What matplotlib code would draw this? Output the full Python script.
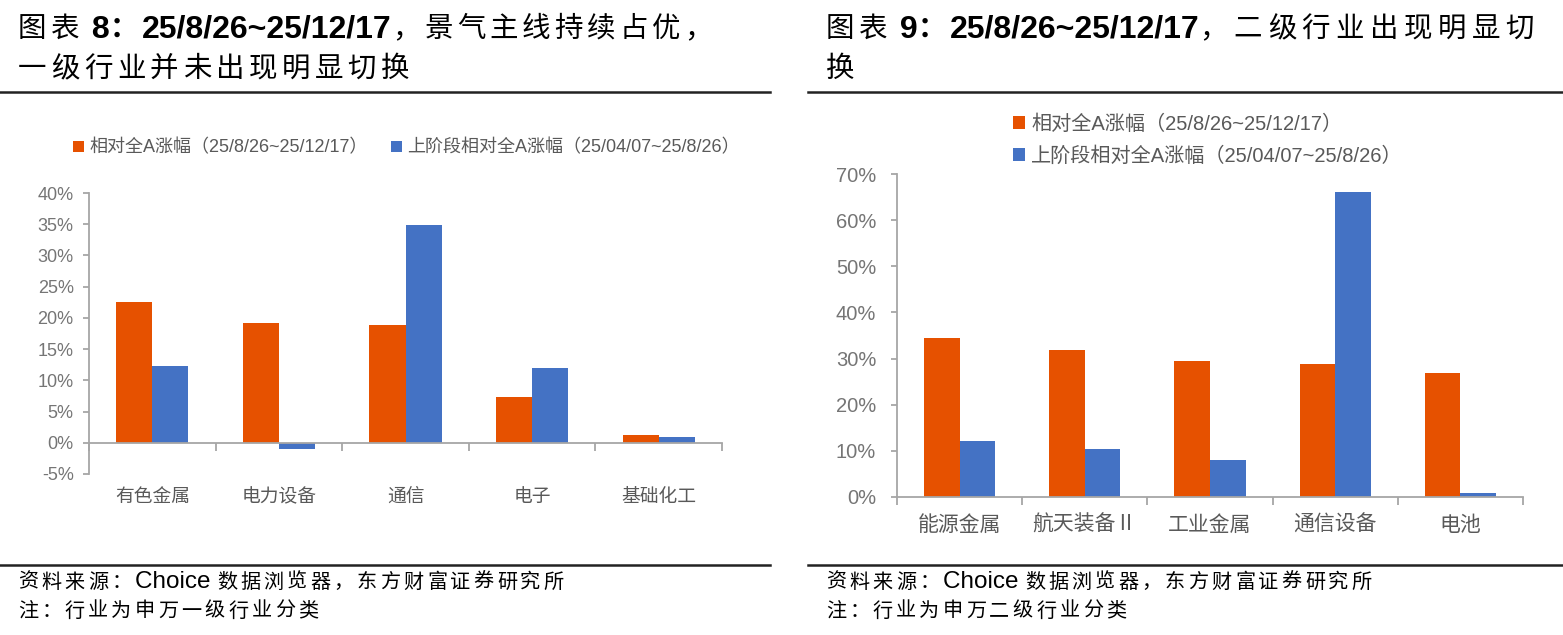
import numpy as np
import matplotlib
matplotlib.use('Agg')
import matplotlib.pyplot as plt
import matplotlib.transforms as mtransforms
from matplotlib.lines import Line2D

plt.rcParams['font.family'] = ['Liberation Sans', 'Noto Sans CJK SC', 'DejaVu Sans']

# data
left_cats = ['有色金属', '电力设备', '通信', '电子', '基础化工']
left_now = [22.5, 19.2, 18.8, 7.3, 1.2]
left_prev = [12.3, -1.0, 34.9, 12.0, 0.9]

right_cats = ['能源金属', '航天装备Ⅱ', '工业金属', '通信设备', '电池']
right_now = [34.5, 31.8, 29.5, 28.9, 26.9]
right_prev = [12.1, 10.4, 8.1, 66.1, 0.95]

label_now = '相对全A涨幅（25/8/26~25/12/17）'
label_prev = '上阶段相对全A涨幅（25/04/07~25/8/26）'

ORANGE = '#E65100'
BLUE = '#4472C4'
GRAY = '#595959'
TICKGRAY = '#757575'
AXIS = '#A6A6A6'
W, H = 1563, 635

fig = plt.figure(figsize=(W / 100, H / 100), dpi=100)
fig.patch.set_facecolor('white')
renderer = fig.canvas.get_renderer()


def fx(px):
    return px / W


def fy(py):
    return 1 - py / H


def draw_runs(xpx, ypx, runs):
    # runs: (text, size, bold, track); track=None -> latin run, measured as a whole
    for txt, size, bold, track in runs:
        weight = 'bold' if bold else 'normal'
        if track is None:
            t = fig.text(fx(xpx), fy(ypx), txt, fontsize=size, fontweight=weight,
                         va='center', ha='left')
            xpx += t.get_window_extent(renderer=renderer).width
        else:
            em = size * 100 / 72
            for ch in txt:
                fig.text(fx(xpx), fy(ypx), ch, fontsize=size, fontweight=weight,
                         va='center', ha='left')
                xpx += em + track


TS, TB, TT = 20.5, 23, 4
draw_runs(18, 30, [('图表', TS, False, TT), (' 8', TB, True, None), ('：', TS, True, TT),
                   ('25/8/26~25/12/17', TB, True, None), ('，景气主线持续占优，', TS, False, TT)])
draw_runs(18, 70, [('一级行业并未出现明显切换', TS, False, TT + 0.5)])
draw_runs(826, 30, [('图表', TS, False, TT), (' 9', TB, True, None), ('：', TS, True, TT),
                    ('25/8/26~25/12/17', TB, True, None), ('，二级行业出现明显切', TS, False, TT + 1.5)])
draw_runs(826, 70, [('换', TS, False, TT)])

# horizontal rules
for x0, x1 in [(0, 770), (808, 1563)]:
    fig.add_artist(Line2D([fx(x0), fx(x1)], [fy(92), fy(92)], color='#222222', lw=1.8))
    fig.add_artist(Line2D([fx(x0), fx(x1)], [fy(565), fy(565)], color='#222222', lw=1.8))

# footers
FS, FL, FT = 14.5, 17.5, 3.2
for x0, lvl in [(18, '一'), (826, '二')]:
    draw_runs(x0, 582, [('资料来源：', FS, False, FT), ('Choice ', FL, False, None),
                        ('数据浏览器，东方财富证券研究所', FS, False, FT)])
    draw_runs(x0, 611, [('注：行业为申万' + lvl + '级行业分类', FS, False, FT)])

bw = 0.285


def style_axes(ax, cats, tick_size, pad):
    for s in ['top', 'right']:
        ax.spines[s].set_visible(False)
    ax.spines['left'].set_color(AXIS)
    ax.spines['bottom'].set_color(AXIS)
    ax.spines['left'].set_linewidth(1.3)
    ax.spines['bottom'].set_linewidth(1.3)
    ax.tick_params(axis='y', colors=AXIS, labelcolor=TICKGRAY, labelsize=tick_size,
                   length=4, width=1.3, pad=pad)
    ax.set_xlim(-0.5, len(cats) - 0.5)
    ax.set_xticks(np.arange(len(cats) + 1) - 0.5)
    ax.set_xticklabels([])
    ax.tick_params(axis='x', colors=AXIS, length=6, width=1.3, direction='out')
    ax.yaxis.set_major_formatter(plt.FuncFormatter(lambda v, p: f'{v:.0f}%'))


# left chart
ax1 = fig.add_axes([fx(89), fy(474), fx(722) - fx(89), fy(193) - fy(474)])
x = np.arange(len(left_cats))
ax1.bar(x - bw / 2, left_now, bw, color=ORANGE, label=label_now)
ax1.bar(x + bw / 2, left_prev, bw, color=BLUE, label=label_prev)
ax1.set_ylim(-5, 40)
ax1.set_yticks(np.arange(-5, 41, 5))
style_axes(ax1, left_cats, 13, 7)
ax1.spines['bottom'].set_position(('data', 0))
trans1 = mtransforms.blended_transform_factory(ax1.transData, fig.transFigure)
for i, c in enumerate(left_cats):
    ax1.text(i, fy(497), c, transform=trans1, ha='center', va='center',
             fontsize=13.5, color=GRAY)
ax1.legend(loc='center left', bbox_to_anchor=(fx(64), fy(148)), bbox_transform=fig.transFigure,
           ncol=2, frameon=False, fontsize=13, labelcolor=GRAY, handlelength=0.6,
           handleheight=0.6, handletextpad=0.3, columnspacing=1.3, borderpad=0)

# right chart
ax2 = fig.add_axes([fx(897), fy(497), fx(1523) - fx(897), fy(174) - fy(497)])
x = np.arange(len(right_cats))
ax2.bar(x - bw / 2, right_now, bw, color=ORANGE, label=label_now)
ax2.bar(x + bw / 2, right_prev, bw, color=BLUE, label=label_prev)
ax2.set_ylim(0, 70)
ax2.set_yticks(np.arange(0, 71, 10))
style_axes(ax2, right_cats, 14.5, 11)
trans2 = mtransforms.blended_transform_factory(ax2.transData, fig.transFigure)
for i, c in enumerate(right_cats):
    ax2.text(i, fy(525), c, transform=trans2, ha='center', va='center',
             fontsize=15, color=GRAY)
ax2.legend(loc='center left', bbox_to_anchor=(fx(1003), fy(140)), bbox_transform=fig.transFigure,
           ncol=1, frameon=False, fontsize=14.5, labelcolor=GRAY, handlelength=0.6,
           handleheight=0.6, handletextpad=0.3, labelspacing=0.6, borderpad=0)

fig.savefig('out.png', dpi=100, facecolor='white')
